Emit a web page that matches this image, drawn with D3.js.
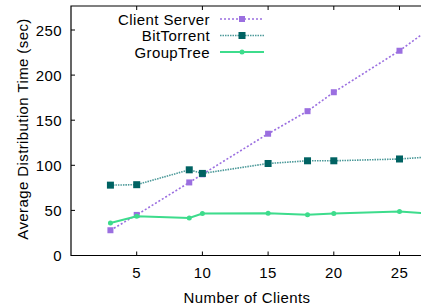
<!DOCTYPE html>
<html>
<head>
<meta charset="utf-8">
<script src="https://cdn.jsdelivr.net/npm/d3@7"></script>
<style>
  body { margin: 0; background: #fff; }
  svg { font-family: "Liberation Sans", Arial, sans-serif; }
  text { font-size: 15px; letter-spacing: 0.4px; }
</style>
</head>
<body>
<svg id="chart" width="421" height="306"></svg>
<script>
// data (last point sits past the right edge, clipped)
const clients = [3, 5, 9, 10, 15, 18, 20, 25, 30];
const clientServer = [28, 45, 81, 90, 135, 160, 181, 227, 280];
const bitTorrent = [78, 78.5, 95, 91, 102, 105, 105, 107, 112];
const groupTree = [36, 43.5, 41.5, 46.5, 46.8, 45.3, 46.5, 48.7, 44];
const xTicks = [5, 10, 15, 20, 25];
const yTicks = [0, 50, 100, 150, 200, 250];

const series = [
  { name: "Client Server", values: clientServer, color: "#9b6fe0", dash: "2,2", width: 1.6, mark: "sq", size: 6, fill: "#9b6fe0" },
  { name: "BitTorrent", values: bitTorrent, color: "#4d9a9a", dash: "1.5,1", width: 1.6, mark: "sq", size: 7, fill: "#006262" },
  { name: "GroupTree", values: groupTree, color: "#3ddc8c", dash: null, width: 2, mark: "dot", size: 5, fill: "#3ddc8c" }
];

const svg = d3.select("svg#chart");
const m = { left: 71, right: 421, top: 6, bottom: 255.5 };

const x = d3.scaleLinear().domain([0, 5]).range([m.left, m.left + 65.7]);
const y = d3.scaleLinear().domain([0, 250]).range([m.bottom, 30]);

svg.append("defs").append("clipPath").attr("id", "plot")
  .append("rect").attr("x", m.left).attr("y", m.top).attr("width", m.right - m.left).attr("height", m.bottom - m.top);

const plot = svg.append("g").attr("clip-path", "url(#plot)");

const line = d3.line().x((d, i) => x(clients[i])).y(d => y(d));

series.forEach(s => {
  plot.append("path")
    .datum(s.values)
    .attr("fill", "none")
    .attr("stroke", s.color)
    .attr("stroke-width", s.width)
    .attr("stroke-dasharray", s.dash)
    .attr("d", line);

  const pts = plot.selectAll(null).data(s.values).enter();
  if (s.mark === "sq") {
    pts.append("rect")
      .attr("x", (d, i) => x(clients[i]) - s.size / 2)
      .attr("y", d => y(d) - s.size / 2)
      .attr("width", s.size).attr("height", s.size)
      .attr("fill", s.fill);
  } else {
    pts.append("circle")
      .attr("cx", (d, i) => x(clients[i]))
      .attr("cy", d => y(d))
      .attr("r", s.size / 2)
      .attr("fill", s.fill);
  }
});

// frame: left, bottom, top (right side is cut off)
const axisColor = "#000";
svg.append("path")
  .attr("d", `M${m.right},${m.top}H${m.left}V${m.bottom}H${m.right}`)
  .attr("fill", "none").attr("stroke", axisColor).attr("stroke-width", 1.2);

// inward ticks
xTicks.forEach(t => {
  svg.append("line").attr("x1", x(t)).attr("x2", x(t)).attr("y1", m.bottom).attr("y2", m.bottom - 4)
    .attr("stroke", axisColor);
  svg.append("line").attr("x1", x(t)).attr("x2", x(t)).attr("y1", m.top).attr("y2", m.top + 4)
    .attr("stroke", axisColor);
});
yTicks.forEach(t => {
  svg.append("line").attr("x1", m.left).attr("x2", m.left + 4).attr("y1", y(t)).attr("y2", y(t))
    .attr("stroke", axisColor);
});

svg.selectAll(".xl").data(xTicks).enter().append("text")
  .attr("x", d => x(d)).attr("y", 277.5)
  .attr("text-anchor", "middle").text(d => d);

svg.selectAll(".yl").data(yTicks).enter().append("text")
  .attr("x", 62).attr("y", d => y(d) + 5.5)
  .attr("text-anchor", "end").text(d => d);

svg.append("text")
  .attr("x", 247).attr("y", 303)
  .attr("text-anchor", "middle")
  .text("Number of Clients");

svg.append("text")
  .attr("transform", "translate(28,129) rotate(-90)")
  .attr("text-anchor", "middle")
  .text("Average Distribution Time (sec)");

// legend
const legend = svg.selectAll(".legend").data(series).enter().append("g")
  .attr("transform", (d, i) => `translate(0,${19 + i * 16.5})`);

legend.append("text")
  .attr("x", 210).attr("y", 5.5)
  .attr("text-anchor", "end")
  .text(d => d.name);

legend.append("line")
  .attr("x1", 220).attr("x2", 264)
  .attr("stroke", d => d.color)
  .attr("stroke-width", d => d.width)
  .attr("stroke-dasharray", d => d.dash);

legend.each(function(d) {
  const g = d3.select(this);
  if (d.mark === "sq") {
    g.append("rect").attr("x", 242 - d.size / 2).attr("y", -d.size / 2)
      .attr("width", d.size).attr("height", d.size).attr("fill", d.fill);
  } else {
    g.append("circle").attr("cx", 242).attr("cy", 0).attr("r", d.size / 2).attr("fill", d.fill);
  }
});
</script>
</body>
</html>
